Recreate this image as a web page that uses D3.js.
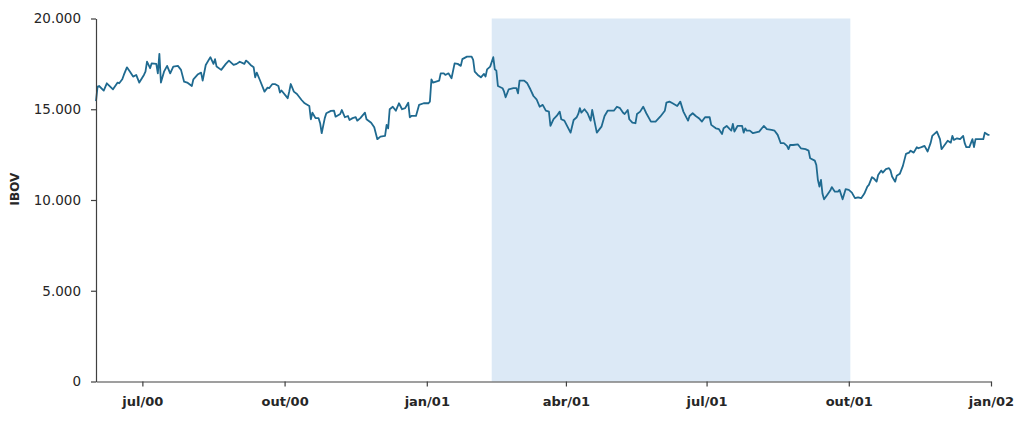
<!DOCTYPE html>
<html>
<head>
<meta charset="utf-8">
<script src="https://cdn.jsdelivr.net/npm/d3@7"></script>
<style>
  body { margin: 0; background: #fff; }
  svg { display: block; font-family: "DejaVu Sans", sans-serif; }
</style>
</head>
<body>
<svg id="chart" width="1024" height="421"></svg>
<script>
// IBOV daily close, jun/2000 - dez/2001
const dates = [
  "2000-06-01","2000-06-02","2000-06-03","2000-06-06","2000-06-08","2000-06-12","2000-06-15","2000-06-16","2000-06-18","2000-06-19",
  "2000-06-21","2000-06-23","2000-06-25","2000-06-27","2000-06-29","2000-07-02","2000-07-03","2000-07-04","2000-07-06","2000-07-07",
  "2000-07-10","2000-07-11","2000-07-12","2000-07-13","2000-07-15","2000-07-17","2000-07-19","2000-07-21","2000-07-24","2000-07-26",
  "2000-07-28","2000-07-30","2000-08-02","2000-08-03","2000-08-06","2000-08-08","2000-08-09","2000-08-11","2000-08-14","2000-08-16",
  "2000-08-17","2000-08-18","2000-08-21","2000-08-24","2000-08-26","2000-08-29","2000-08-31","2000-09-02","2000-09-05","2000-09-06",
  "2000-09-07","2000-09-09","2000-09-11","2000-09-12","2000-09-13","2000-09-15","2000-09-18","2000-09-20","2000-09-21","2000-09-23",
  "2000-09-25","2000-09-27","2000-09-28","2000-09-29","2000-10-03","2000-10-04","2000-10-05","2000-10-07","2000-10-09","2000-10-12",
  "2000-10-14","2000-10-17","2000-10-18","2000-10-19","2000-10-21","2000-10-23","2000-10-24","2000-10-25","2000-10-27","2000-10-28",
  "2000-10-31","2000-11-02","2000-11-03","2000-11-06","2000-11-07","2000-11-09","2000-11-11","2000-11-12","2000-11-14","2000-11-16",
  "2000-11-17","2000-11-19","2000-11-22","2000-11-23","2000-11-26","2000-11-28","2000-11-30","2000-12-02","2000-12-05","2000-12-06",
  "2000-12-07","2000-12-08","2000-12-10","2000-12-12","2000-12-14","2000-12-16","2000-12-18","2000-12-20","2000-12-21","2000-12-22",
  "2000-12-25","2000-12-27","2000-12-30","2001-01-02","2001-01-03","2001-01-04","2001-01-05","2001-01-09","2001-01-10","2001-01-12",
  "2001-01-13","2001-01-15","2001-01-17","2001-01-19","2001-01-21","2001-01-23","2001-01-24","2001-01-27","2001-01-30","2001-01-31",
  "2001-02-01","2001-02-03","2001-02-05","2001-02-07","2001-02-08","2001-02-09","2001-02-11","2001-02-13","2001-02-14","2001-02-15",
  "2001-02-16","2001-02-19","2001-02-20","2001-02-21","2001-02-23","2001-02-26","2001-02-28","2001-03-01","2001-03-02","2001-03-05",
  "2001-03-07","2001-03-09","2001-03-11","2001-03-13","2001-03-15","2001-03-17","2001-03-19","2001-03-21","2001-03-22","2001-03-24",
  "2001-03-26","2001-03-28","2001-03-29","2001-03-31","2001-04-02","2001-04-04","2001-04-06","2001-04-08","2001-04-09","2001-04-10",
  "2001-04-11","2001-04-13","2001-04-15","2001-04-17","2001-04-18","2001-04-21","2001-04-22","2001-04-24","2001-04-26","2001-04-28",
  "2001-04-30","2001-05-02","2001-05-04","2001-05-06","2001-05-08","2001-05-09","2001-05-11","2001-05-12","2001-05-14","2001-05-16",
  "2001-05-17","2001-05-19","2001-05-21","2001-05-23","2001-05-26","2001-05-29","2001-06-01","2001-06-04","2001-06-05","2001-06-07",
  "2001-06-09","2001-06-12","2001-06-14","2001-06-16","2001-06-19","2001-06-20","2001-06-22","2001-06-24","2001-06-26","2001-06-28",
  "2001-06-30","2001-07-03","2001-07-04","2001-07-07","2001-07-09","2001-07-11","2001-07-12","2001-07-14","2001-07-16","2001-07-17",
  "2001-07-18","2001-07-19","2001-07-21","2001-07-24","2001-07-25","2001-07-26","2001-07-27","2001-07-29","2001-07-31","2001-08-04",
  "2001-08-07","2001-08-09","2001-08-12","2001-08-14","2001-08-16","2001-08-18","2001-08-20","2001-08-22","2001-08-23","2001-08-24",
  "2001-08-26","2001-08-29","2001-08-31","2001-09-03","2001-09-05","2001-09-06","2001-09-09","2001-09-10","2001-09-11","2001-09-12",
  "2001-09-13","2001-09-14","2001-09-15","2001-09-17","2001-09-19","2001-09-20","2001-09-22","2001-09-24","2001-09-25","2001-09-27",
  "2001-09-29","2001-10-01","2001-10-03","2001-10-05","2001-10-07","2001-10-09","2001-10-11","2001-10-13","2001-10-14","2001-10-16",
  "2001-10-17","2001-10-19","2001-10-20","2001-10-22","2001-10-23","2001-10-25","2001-10-27","2001-10-28","2001-10-29","2001-10-31",
  "2001-11-01","2001-11-03","2001-11-05","2001-11-07","2001-11-09","2001-11-10","2001-11-12","2001-11-14","2001-11-15","2001-11-17",
  "2001-11-19","2001-11-21","2001-11-23","2001-11-24","2001-11-27","2001-11-29","2001-11-30","2001-12-02","2001-12-04","2001-12-06",
  "2001-12-07","2001-12-08","2001-12-10","2001-12-12","2001-12-14","2001-12-15","2001-12-16","2001-12-18","2001-12-20","2001-12-21",
  "2001-12-22","2001-12-25","2001-12-27","2001-12-28","2001-12-30","2001-12-31"
];

const ibov = [
  15450,16250,16280,16030,16430,16100,16470,16430,16650,16890,
  17310,17070,16800,16890,16470,16890,17070,17620,17260,17530,
  17500,16980,18050,16470,17070,17390,16980,17350,17390,17170,
  16520,16470,16280,16650,16930,17020,16580,17440,17870,17500,
  17760,17350,17170,17500,17680,17440,17500,17620,17500,17680,
  17620,17440,17310,16760,17020,16610,15970,16190,16160,16380,
  16380,16280,15920,16030,15610,15970,16390,15970,15840,15510,
  15330,15180,14450,14810,14510,14510,14230,13680,14510,14780,
  14910,14920,14590,14740,14960,14560,14630,14410,14510,14560,
  14370,14510,14810,14450,14260,14010,13350,13490,13530,14140,
  13950,15000,15140,14920,15330,15000,15060,15360,14560,14630,
  14630,15240,15330,15330,15420,16650,16470,16580,16980,16980,
  16890,16980,16710,17530,17500,17390,17760,17900,17900,17720,
  17070,16890,16760,16950,16800,17200,17350,17870,17200,17130,
  16280,16160,15970,15660,16100,16160,16160,15880,16580,16580,
  16430,16100,15730,15550,15140,15240,14920,14870,14080,14450,
  14630,14870,14450,14370,14040,13710,14410,14560,14740,15060,
  14810,15000,14780,14370,14960,13710,13820,14040,14630,14920,
  14920,14920,15140,15060,14810,14740,14960,14450,14260,14230,
  14740,14870,15140,14780,14320,14320,14590,14920,15360,15420,
  15330,15180,15420,14870,14370,14630,14780,14630,14510,14320,
  14560,14560,14140,13950,13900,13640,13950,14080,13900,13820,
  14190,13770,14080,14080,13710,13950,13820,13820,13680,13770,
  14080,13900,13860,13820,13590,13130,13130,12980,12800,13030,
  13030,13070,12850,12800,12720,12300,12170,11930,11110,10740,
  11110,10340,10040,10280,10520,10710,10460,10460,10560,10040,
  10600,10560,10410,10100,10150,10100,10340,10740,10830,11260,
  11200,11010,11380,11620,11510,11700,11750,11620,11290,11010,
  11330,11440,11880,12540,12610,12720,12610,12910,12850,12910,
  12980,12670,13160,13530,13770,13350,12800,13030,13270,13160,
  13530,13310,13400,13350,13530,13130,12910,12910,13350,12910,
  13350,13350,13350,13710,13590,13590
];

// shaded period
const shadePeriod = ["2001-02-12", "2001-10-02"];

// axes
const xDomain = ["2000-06-01", "2002-01-01"];
const xTickDates = ["2000-07-01", "2000-10-01", "2001-01-01", "2001-04-01", "2001-07-01", "2001-10-01", "2002-01-01"];
const xTickLabels = ["jul/00", "out/00", "jan/01", "abr/01", "jul/01", "out/01", "jan/02"];
const yTicks = [0, 5000, 10000, 15000, 20000];
const yTitle = "IBOV";

const parse = d3.timeParse("%Y-%m-%d");
const data = dates.map((d, i) => ({ date: parse(d), value: ibov[i] }));

const svg = d3.select("#chart");
const margin = { top: 18.5, right: 33, bottom: 39.5, left: 96 };
const W = 1024, H = 421;

const x = d3.scaleTime()
  .domain(xDomain.map(parse))
  .range([margin.left, W - margin.right]);

const y = d3.scaleLinear()
  .domain([0, 20000])
  .range([H - margin.bottom, margin.top]);

const br = d3.formatLocale({ decimal: ",", thousands: ".", grouping: [3], currency: ["R$", ""] });
const fmt = br.format(",.0f");

// shaded band
svg.append("rect")
  .attr("x", x(parse(shadePeriod[0])))
  .attr("y", y(20000))
  .attr("width", x(parse(shadePeriod[1])) - x(parse(shadePeriod[0])))
  .attr("height", y(0) - y(20000))
  .attr("fill", "#dce9f6");

// series line
const line = d3.line()
  .x(d => x(d.date))
  .y(d => y(d.value));

svg.append("path")
  .datum(data)
  .attr("fill", "none")
  .attr("stroke", "#1f6a90")
  .attr("stroke-width", 1.8)
  .attr("stroke-linejoin", "round")
  .attr("d", line);

// y axis
const yAxis = svg.append("g")
  .attr("transform", `translate(${margin.left},0)`)
  .call(d3.axisLeft(y).tickValues(yTicks).tickFormat(fmt).tickSize(5).tickSizeOuter(0).tickPadding(10));

yAxis.selectAll("text")
  .attr("font-size", 13.5)
  .attr("font-family", "DejaVu Sans, sans-serif")
  .attr("fill", "#262626");

// x axis
const xAxis = svg.append("g")
  .attr("transform", `translate(0,${y(0)})`)
  .call(d3.axisBottom(x)
    .tickValues(xTickDates.map(parse))
    .tickFormat((d, i) => xTickLabels[i])
    .tickSize(5).tickSizeOuter(0).tickPadding(10));

xAxis.selectAll("text")
  .attr("font-size", 13)
  .attr("font-weight", "bold")
  .attr("font-family", "DejaVu Sans, sans-serif")
  .attr("fill", "#262626");

svg.selectAll(".domain, .tick line")
  .attr("stroke", "#404040")
  .attr("stroke-width", 1.2);

// y title
svg.append("text")
  .attr("transform", "translate(19,189) rotate(-90)")
  .attr("text-anchor", "middle")
  .attr("font-size", 12)
  .attr("font-weight", "bold")
  .attr("fill", "#262626")
  .text(yTitle);
</script>
</body>
</html>
